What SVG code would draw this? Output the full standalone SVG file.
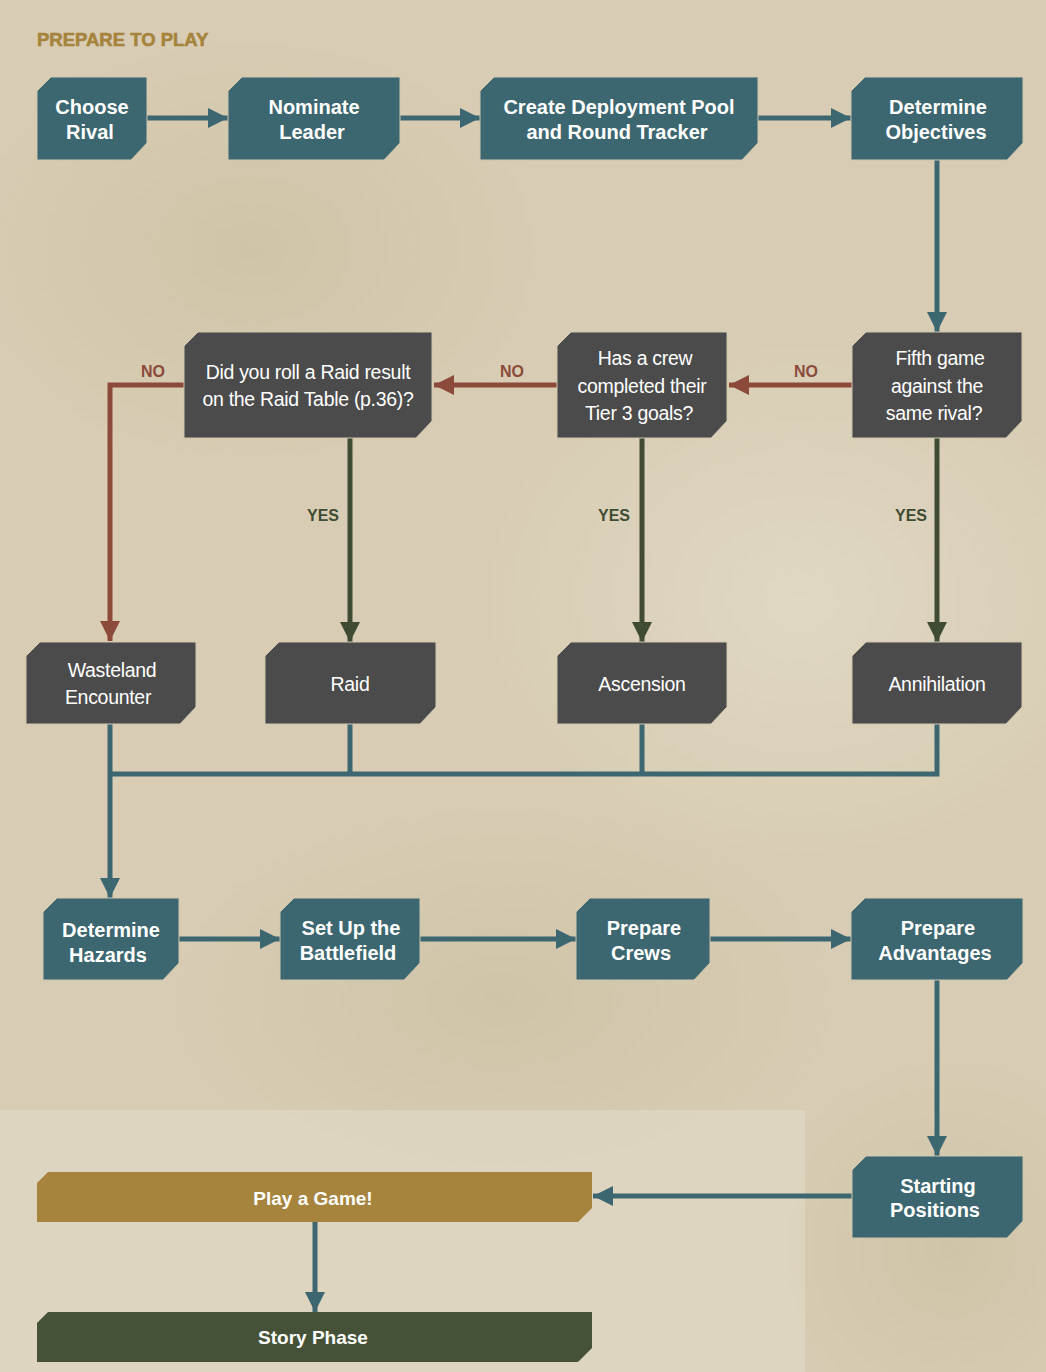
<svg xmlns="http://www.w3.org/2000/svg" width="1046" height="1372" viewBox="0 0 1046 1372">
<defs>
<radialGradient id="bgA" cx="0.5" cy="0.5" r="0.5"><stop offset="0" stop-color="#c9bc9e" stop-opacity="0.55"/><stop offset="1" stop-color="#c9bc9e" stop-opacity="0"/></radialGradient>
<radialGradient id="bgB" cx="0.5" cy="0.5" r="0.5"><stop offset="0" stop-color="#e6dfcd" stop-opacity="0.6"/><stop offset="1" stop-color="#e6dfcd" stop-opacity="0"/></radialGradient>
<marker id="aT" markerUnits="userSpaceOnUse" markerWidth="20" markerHeight="22" viewBox="0 0 20 22" refX="20" refY="11" orient="auto"><path d="M0,1 L20,11 L0,21 Z" fill="#3c6670"/></marker>
<marker id="aR" markerUnits="userSpaceOnUse" markerWidth="20" markerHeight="22" viewBox="0 0 20 22" refX="20" refY="11" orient="auto"><path d="M0,1 L20,11 L0,21 Z" fill="#8b4a3a"/></marker>
<marker id="aG" markerUnits="userSpaceOnUse" markerWidth="20" markerHeight="22" viewBox="0 0 20 22" refX="20" refY="11" orient="auto"><path d="M0,1 L20,11 L0,21 Z" fill="#3f4c33"/></marker>
</defs>
<style>
.teal{fill:#3c6670;stroke:#cfc6ae;stroke-width:1}
.dark{fill:#4b4b4b;stroke:#cfc6ae;stroke-width:1}
.tb{font-family:"Liberation Sans",Arial,sans-serif;font-weight:bold;font-size:20px;fill:#ffffff;text-anchor:middle}
.dt{font-family:"Liberation Sans",Arial,sans-serif;font-size:19.5px;fill:#ffffff;text-anchor:middle;letter-spacing:-0.3px}
.lbl{font-family:"Liberation Sans",Arial,sans-serif;font-weight:bold;font-size:16px;text-anchor:middle}
.no{fill:#8b4a3a}
.yes{fill:#3f4c33}
.ct{stroke:#3c6670;stroke-width:5;fill:none}
.cr{stroke:#8b4a3a;stroke-width:5;fill:none}
.cg{stroke:#3f4c33;stroke-width:5;fill:none}
</style>
<rect x="0" y="0" width="1046" height="1372" fill="#d8cdb4"/>
<ellipse cx="250" cy="250" rx="300" ry="220" fill="url(#bgA)"/>
<ellipse cx="800" cy="600" rx="320" ry="260" fill="url(#bgB)"/>
<ellipse cx="500" cy="1000" rx="350" ry="200" fill="url(#bgA)"/>
<ellipse cx="950" cy="1250" rx="200" ry="200" fill="url(#bgA)"/>
<rect x="0" y="1110" width="805" height="262" fill="#e4ddcc" opacity="0.55"/>
<text x="37" y="46" style="font-family:'Liberation Sans',Arial,sans-serif;font-weight:bold;font-size:18.5px;fill:#a6843e;stroke:#a6843e;stroke-width:0.6">PREPARE TO PLAY</text>

<g id="connectors">
<line class="ct" x1="147" y1="118" x2="228" y2="118" marker-end="url(#aT)"/>
<line class="ct" x1="400" y1="118" x2="480" y2="118" marker-end="url(#aT)"/>
<line class="ct" x1="758" y1="118" x2="851" y2="118" marker-end="url(#aT)"/>
<line class="ct" x1="937" y1="160" x2="937" y2="332" marker-end="url(#aT)"/>
<line class="cr" x1="852" y1="385" x2="729" y2="385" marker-end="url(#aR)"/>
<line class="cr" x1="557" y1="385" x2="434" y2="385" marker-end="url(#aR)"/>
<polyline class="cr" points="184,385 110,385 110,641" marker-end="url(#aR)"/>
<line class="cg" x1="350" y1="438" x2="350" y2="642" marker-end="url(#aG)"/>
<line class="cg" x1="642" y1="438" x2="642" y2="642" marker-end="url(#aG)"/>
<line class="cg" x1="937" y1="438" x2="937" y2="642" marker-end="url(#aG)"/>
<polyline class="ct" points="350,724 350,774"/>
<polyline class="ct" points="642,724 642,774"/>
<polyline class="ct" points="937,724 937,774 110,774"/>
<line class="ct" x1="110" y1="724" x2="110" y2="898" marker-end="url(#aT)"/>
<line class="ct" x1="179" y1="939" x2="280" y2="939" marker-end="url(#aT)"/>
<line class="ct" x1="420" y1="939" x2="576" y2="939" marker-end="url(#aT)"/>
<line class="ct" x1="710" y1="939" x2="851" y2="939" marker-end="url(#aT)"/>
<line class="ct" x1="937" y1="980" x2="937" y2="1156" marker-end="url(#aT)"/>
<line class="ct" x1="852" y1="1196" x2="593" y2="1196" marker-end="url(#aT)"/>
<line class="ct" x1="315" y1="1222" x2="315" y2="1312" marker-end="url(#aT)"/>
<text class="lbl no" x="153" y="377">NO</text>
<text class="lbl no" x="512" y="377">NO</text>
<text class="lbl no" x="806" y="377">NO</text>
<text class="lbl yes" x="323" y="521">YES</text>
<text class="lbl yes" x="614" y="521">YES</text>
<text class="lbl yes" x="911" y="521">YES</text>
</g>

<g id="choose-rival"><path class="teal" d="M51,77 H147 V143 L131,160 H37 V91 Z"/><text class="tb" x="92" y="114">Choose</text><text class="tb" x="90" y="139">Rival</text></g>
<g id="nominate-leader"><path class="teal" d="M242,77 H400 V143 L384,160 H228 V91 Z"/><text class="tb" x="314" y="114">Nominate</text><text class="tb" x="312" y="139">Leader</text></g>
<g id="create-deployment"><path class="teal" d="M494,77 H758 V143 L742,160 H480 V91 Z"/><text class="tb" x="619" y="114">Create Deployment Pool</text><text class="tb" x="617" y="139">and Round Tracker</text></g>
<g id="determine-objectives"><path class="teal" d="M865,77 H1023 V143 L1007,160 H851 V91 Z"/><text class="tb" x="938" y="114">Determine</text><text class="tb" x="936" y="139">Objectives</text></g>

<g id="raid-question"><path class="dark" d="M198,332 H432 V421 L416,438 H184 V346 Z"/><text class="dt" x="308" y="379">Did you roll a Raid result</text><text class="dt" x="308" y="406">on the Raid Table (p.36)?</text></g>
<g id="crew-question"><path class="dark" d="M571,332 H727 V421 L711,438 H557 V346 Z"/><text class="dt" x="645" y="365">Has a crew</text><text class="dt" x="642" y="393">completed their</text><text class="dt" x="639" y="420">Tier 3 goals?</text></g>
<g id="fifth-game"><path class="dark" d="M866,332 H1022 V421 L1006,438 H852 V346 Z"/><text class="dt" x="940" y="365">Fifth game</text><text class="dt" x="937" y="393">against the</text><text class="dt" x="934" y="420">same rival?</text></g>

<g id="wasteland-encounter"><path class="dark" d="M40,642 H196 V707 L180,724 H26 V656 Z"/><text class="dt" x="112" y="677">Wasteland</text><text class="dt" x="108" y="704">Encounter</text></g>
<g id="raid"><path class="dark" d="M279,642 H436 V707 L420,724 H265 V656 Z"/><text class="dt" x="350" y="691">Raid</text></g>
<g id="ascension"><path class="dark" d="M571,642 H727 V707 L711,724 H557 V656 Z"/><text class="dt" x="642" y="691">Ascension</text></g>
<g id="annihilation"><path class="dark" d="M866,642 H1022 V707 L1006,724 H852 V656 Z"/><text class="dt" x="937" y="691">Annihilation</text></g>

<g id="determine-hazards"><path class="teal" d="M57,898 H179 V963 L163,980 H43 V912 Z"/><text class="tb" x="111" y="937">Determine</text><text class="tb" x="108" y="962">Hazards</text></g>
<g id="set-up-battlefield"><path class="teal" d="M294,898 H420 V963 L404,980 H280 V912 Z"/><text class="tb" x="351" y="935">Set Up the</text><text class="tb" x="348" y="960">Battlefield</text></g>
<g id="prepare-crews"><path class="teal" d="M590,898 H710 V963 L694,980 H576 V912 Z"/><text class="tb" x="644" y="935">Prepare</text><text class="tb" x="641" y="960">Crews</text></g>
<g id="prepare-advantages"><path class="teal" d="M865,898 H1023 V963 L1007,980 H851 V912 Z"/><text class="tb" x="938" y="935">Prepare</text><text class="tb" x="935" y="960">Advantages</text></g>

<g id="starting-positions"><path class="teal" d="M866,1156 H1023 V1221 L1007,1238 H852 V1170 Z"/><text class="tb" x="938" y="1193">Starting</text><text class="tb" x="935" y="1217">Positions</text></g>
<g id="play-a-game"><path d="M48,1172 H592 V1208 L578,1222 H37 V1183 Z" fill="#a6843e"/><text class="tb" x="313" y="1205" style="font-size:19px">Play a Game!</text></g>
<g id="story-phase"><path d="M48,1312 H592 V1348 L578,1362 H37 V1323 Z" fill="#465238"/><text class="tb" x="313" y="1344" style="font-size:19px">Story Phase</text></g>
</svg>
